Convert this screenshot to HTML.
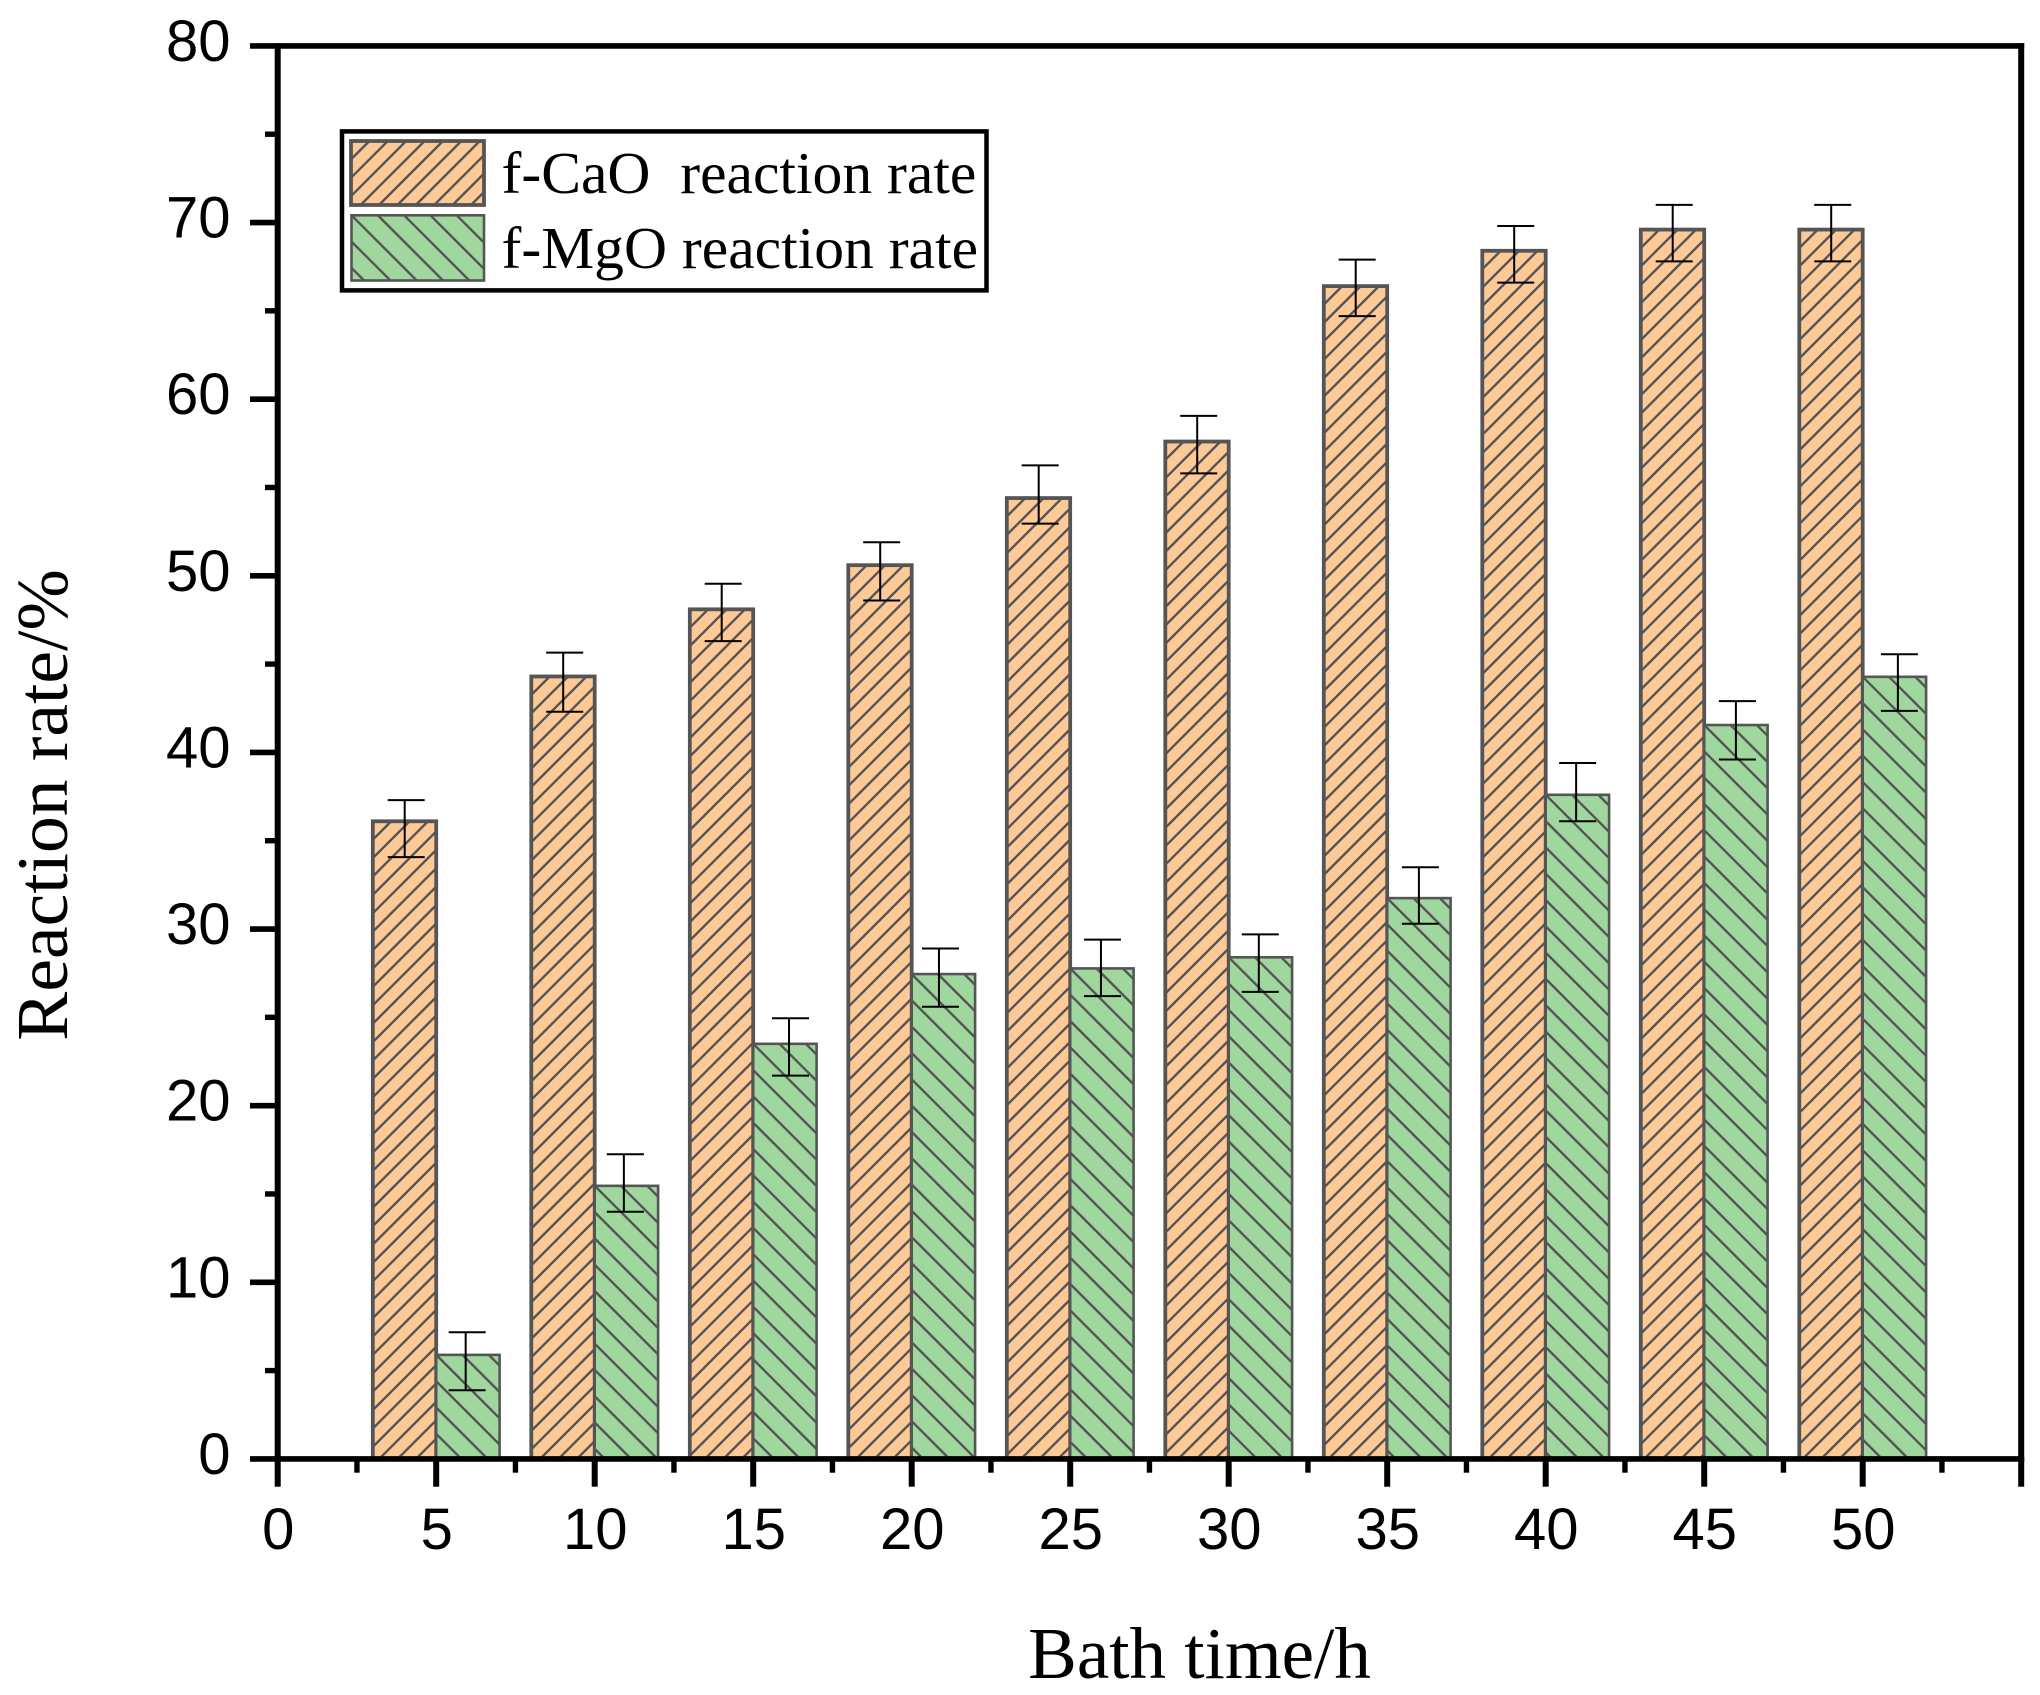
<!DOCTYPE html>
<html lang="en">
<head>
<meta charset="utf-8">
<title>Reaction rate vs bath time</title>
<style>
  html, body { margin: 0; padding: 0; background: #fff; }
  svg { display: block; }
  text { fill: #000; }
  .sans { font-family: "Liberation Sans", sans-serif; }
  .serif { font-family: "Liberation Serif", serif; }
</style>
</head>
<body>
<svg id="chart" xmlns="http://www.w3.org/2000/svg" width="2040" height="1695" viewBox="0 0 2040 1695">
  <rect x="0" y="0" width="2040" height="1695" fill="#ffffff"/>
  <g id="bars"></g>
  <g id="errors"></g>
  <g id="axes"></g>
  <text class="serif" x="1199.5" y="1678" font-size="73" text-anchor="middle">Bath time/h</text>
  <text class="serif" x="0" y="0" font-size="73.5" text-anchor="middle" transform="translate(67 805) rotate(-90)">Reaction rate/%</text>
  <g id="legend">
    <rect x="342" y="131.4" width="644.5" height="159" fill="#ffffff" stroke="#000000" stroke-width="4.5"/>
    <g id="legend-swatches"></g>
    <text class="serif" x="501.5" y="193" font-size="59.6" style="white-space:pre" xml:space="preserve">f-CaO  reaction rate</text>
    <text class="serif" x="501.5" y="268" font-size="59.6" style="white-space:pre" xml:space="preserve">f-MgO reaction rate</text>
  </g>
</svg>
<script>
const categories = [5, 10, 15, 20, 25, 30, 35, 40, 45, 50];
const caoValues = [36.1, 44.3, 48.1, 50.6, 54.4, 57.6, 66.4, 68.4, 69.6, 69.6];
const mgoValues = [5.89, 15.46, 23.5, 27.45, 27.77, 28.4, 31.75, 37.6, 41.55, 44.28];
const caoUpper = [37.3, 45.65, 49.55, 51.9, 56.25, 59.05, 67.9, 69.8, 71.0, 71.0];
const caoLower = [34.07, 42.3, 46.3, 48.6, 52.95, 55.8, 64.7, 66.6, 67.8, 67.8];
const mgoUpper = [7.17, 17.25, 24.95, 28.9, 29.4, 29.7, 33.5, 39.4, 42.9, 45.56];
const mgoLower = [3.89, 13.99, 21.7, 25.6, 26.2, 26.44, 30.3, 36.1, 39.6, 42.35];
const mgoErrorTime = [5.93, 10.92, 16.13, 20.86, 25.97, 30.95, 36.0, 40.96, 46.0, 51.11];
const xMajorTicks = [0, 5, 10, 15, 20, 25, 30, 35, 40, 45, 50, 55];
const xTickLabels = ["0", "5", "10", "15", "20", "25", "30", "35", "40", "45", "50", ""];
const xMinorTicks = [2.5, 7.5, 12.5, 17.5, 22.5, 27.5, 32.5, 37.5, 42.5, 47.5, 52.5];
const yMajorTicks = [0, 10, 20, 30, 40, 50, 60, 70, 80];
const yTickLabels = ["0", "10", "20", "30", "40", "50", "60", "70", "80"];
const yMinorTicks = [5, 15, 25, 35, 45, 55, 65, 75];
const barSpan = 2;

const NS = "http://www.w3.org/2000/svg";
const xAxis = v => 277.7 + v * 31.7;
const yAxis = v => 1458.9 - v * 17.6625;

function make(tag, parent, props) {
  const el = document.createElementNS(NS, tag);
  for (const k in props) el.setAttribute(k, props[k]);
  parent.appendChild(el);
  return el;
}

const CAO_FILL = "#fdc997", MGO_FILL = "#9fd79e", EDGE = "#555555";

function drawBar(parent, x0, x1, yt, yb, kind, name) {
  const g = make("g", parent, {});
  
  
  const fill = make("rect", g, { x: x0, y: yt, width: x1 - x0, height: Math.max(0, yb - yt), fill: kind === "cao" ? CAO_FILL : MGO_FILL });
  
  
  let d = "";
  if (kind === "cao") {
    // up-right hatch anchored at the bar's top-left corner
    const step = 18.4, anchor = x0 + yt;
    for (let k = 1; k <= 200; k++) {
      const c = anchor + k * step;
      const a = Math.max(x0, c - yb), b = Math.min(x1, c - yt);
      if (a < b) d += "M" + a.toFixed(1) + " " + (c - a).toFixed(1) + "L" + b.toFixed(1) + " " + (c - b).toFixed(1);
    }
  } else {
    // down-right hatch anchored at the bar's top-left corner
    const step = 26.3, anchor = yt - x0;
    for (let k = -5; k <= 200; k++) {
      const c = anchor + k * step;
      const a = Math.max(x0, yt - c), b = Math.min(x1, yb - c);
      if (a < b) d += "M" + a.toFixed(1) + " " + (a + c).toFixed(1) + "L" + b.toFixed(1) + " " + (b + c).toFixed(1);
    }
  }
  const hatch = make("path", g, { d: d, fill: "none", stroke: EDGE, "stroke-width": 2.4 });
  
  
  const edge = make("rect", g, { x: x0, y: yt, width: x1 - x0, height: Math.max(0, yb - yt), fill: "none", stroke: EDGE, "stroke-width": kind === "cao" ? 3.8 : 2.6 });
  
  
}

function drawError(parent, stemX, up, lo, name) {
  const capC = stemX + 1.5;
  const d = "M" + stemX + " " + up + "V" + lo + "M" + (capC - 18.5) + " " + up + "H" + (capC + 18.5) + "M" + (capC - 18.5) + " " + lo + "H" + (capC + 18.5);
  const e = make("path", parent, { d: d, fill: "none", stroke: "#000000", "stroke-width": 2 });
  
  
}

const barsLayer = document.getElementById("bars");
const errorsLayer = document.getElementById("errors");
categories.forEach((c, i) => {
  const baseY = yAxis(0);
  drawBar(barsLayer, xAxis(c - barSpan), xAxis(c), yAxis(caoValues[i]), baseY, "cao", "bar-cao-" + c + "h");
  drawBar(barsLayer, xAxis(c), xAxis(c + barSpan), yAxis(mgoValues[i]), baseY, "mgo", "bar-mgo-" + c + "h");
  drawError(errorsLayer, xAxis(c - barSpan / 2) + 0.2, yAxis(caoUpper[i]), yAxis(caoLower[i]), "error-bar-cao-" + c + "h");
  drawError(errorsLayer, xAxis(mgoErrorTime[i]), yAxis(mgoUpper[i]), yAxis(mgoLower[i]), "error-bar-mgo-" + c + "h");
});

const axesLayer = document.getElementById("axes");
function axisLine(x1, y1, x2, y2, w, name) {
  const l = make("line", axesLayer, { x1: x1, y1: y1, x2: x2, y2: y2, stroke: "#000000", "stroke-width": w });
  
  
}
const axL = xAxis(0), axR = xAxis(55), axT = yAxis(80), axB = yAxis(0);
axisLine(axL, axT - 2.7, axL, axB + 2.7, 6, "y-axis-line");
axisLine(axR, axT - 2.7, axR, axB + 2.7, 6, "right-axis-line");
axisLine(axL, axT, axR + 3, axT, 5.6, "top-axis-line");
axisLine(axL, axB, axR + 3, axB, 5.6, "x-axis-line");

yMajorTicks.forEach((v, i) => {
  axisLine(250, yAxis(v), axL, yAxis(v), 5.6, "y-major-tick-" + v);
  const t = make("text", axesLayer, { x: 230.5, y: yAxis(v) + 15, "font-size": 58, "text-anchor": "end", class: "sans" });
  t.textContent = yTickLabels[i];
  
  
});
yMinorTicks.forEach(v => {
  axisLine(265, yAxis(v), axL, yAxis(v), 5.4, "y-minor-tick-" + v);
});
xMajorTicks.forEach((v, i) => {
  axisLine(xAxis(v), axB, xAxis(v), 1486.7, 6, "x-major-tick-" + v);
  if (xTickLabels[i]) {
    const t = make("text", axesLayer, { x: xAxis(v) + 0.5, y: 1549, "font-size": 58, "text-anchor": "middle", class: "sans" });
    t.textContent = xTickLabels[i];
    
    
  }
});
xMinorTicks.forEach(v => {
  axisLine(xAxis(v), axB, xAxis(v), 1472.7, 5.4, "x-minor-tick-" + v);
});

const swatches = document.getElementById("legend-swatches");
drawBar(swatches, 351, 484, 141, 205, "cao", "legend-swatch-cao");
drawBar(swatches, 351.5, 484, 215.3, 280.5, "mgo", "legend-swatch-mgo");
</script>
</body>
</html>
